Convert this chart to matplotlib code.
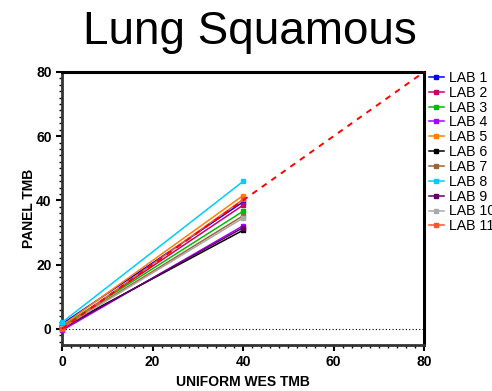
import numpy as np
import matplotlib
matplotlib.use("Agg")
import matplotlib.pyplot as plt
from matplotlib.ticker import MultipleLocator

plt.rcParams['font.family'] = ['Liberation Sans', 'DejaVu Sans']

labs = ["LAB 1", "LAB 2", "LAB 3", "LAB 4", "LAB 5", "LAB 6",
        "LAB 7", "LAB 8", "LAB 9", "LAB 10", "LAB 11"]
colors = ["#0000ff", "#cc0066", "#00bb00", "#aa00ff", "#ff8000", "#000000",
          "#996633", "#00ccff", "#660066", "#aaaaaa", "#ff5522"]
wes_x = [0, 40]
panel_at_0 = [1.5, 0.5, 0.8, -0.5, 1.0, 0.5, 0.5, 2.0, 0.0, 0.3, 0.0]
panel_at_40 = [39.5, 38.5, 36.6, 32.1, 41.5, 30.7, 35.2, 45.9, 31.5, 34.5, 40.3]
identity = [0, 80]

fig = plt.figure(figsize=(4.92, 3.91), dpi=100)
ax = fig.add_axes([0.126, 0.118, 0.736, 0.698])

for name, c, y0, y1 in zip(labs, colors, panel_at_0, panel_at_40):
    ax.plot(wes_x, [y0, y1], color=c, lw=1.1, marker='s', ms=2.2, label=name,
            clip_on=False, zorder=3)

ax.plot(identity, identity, color='red', ls=(0, (3, 3)), lw=1.4, zorder=4, clip_on=False)
ax.axhline(0, color='black', ls=(0, (1, 2)), lw=0.8, zorder=1)

ax.set_xlim(0, 80)
ax.set_ylim(-5, 80)
ax.xaxis.set_major_locator(MultipleLocator(20))
ax.yaxis.set_major_locator(MultipleLocator(20))
ax.xaxis.set_minor_locator(MultipleLocator(2))
ax.yaxis.set_minor_locator(MultipleLocator(2))
ax.tick_params(which='major', length=4, width=1.5, labelsize=10)
ax.tick_params(which='minor', length=2.5, width=1)
for lab in ax.get_xticklabels() + ax.get_yticklabels():
    lab.set_fontweight('bold')

for side in ['top', 'right']:
    ax.spines[side].set_linewidth(2.2)
    ax.spines[side].set_color('black')
for side in ['left', 'bottom']:
    ax.spines[side].set_linewidth(2)
    ax.spines[side].set_color('#333333')

ax.set_xlabel("UNIFORM WES TMB", fontsize=10, fontweight='bold', labelpad=4)
ax.set_ylabel("PANEL TMB", fontsize=10, fontweight='bold', labelpad=0)
fig.text(0.508, 0.918, "Lung Squamous", fontsize=33, ha='center', va='center')

ax.legend(loc='upper left', bbox_to_anchor=(0.995, 1.03), frameon=False,
          fontsize=10.2, handlelength=1.0, handletextpad=0.4, labelspacing=0.06,
          borderaxespad=0.3, borderpad=0.2)

fig.savefig("out.png", dpi=100)
